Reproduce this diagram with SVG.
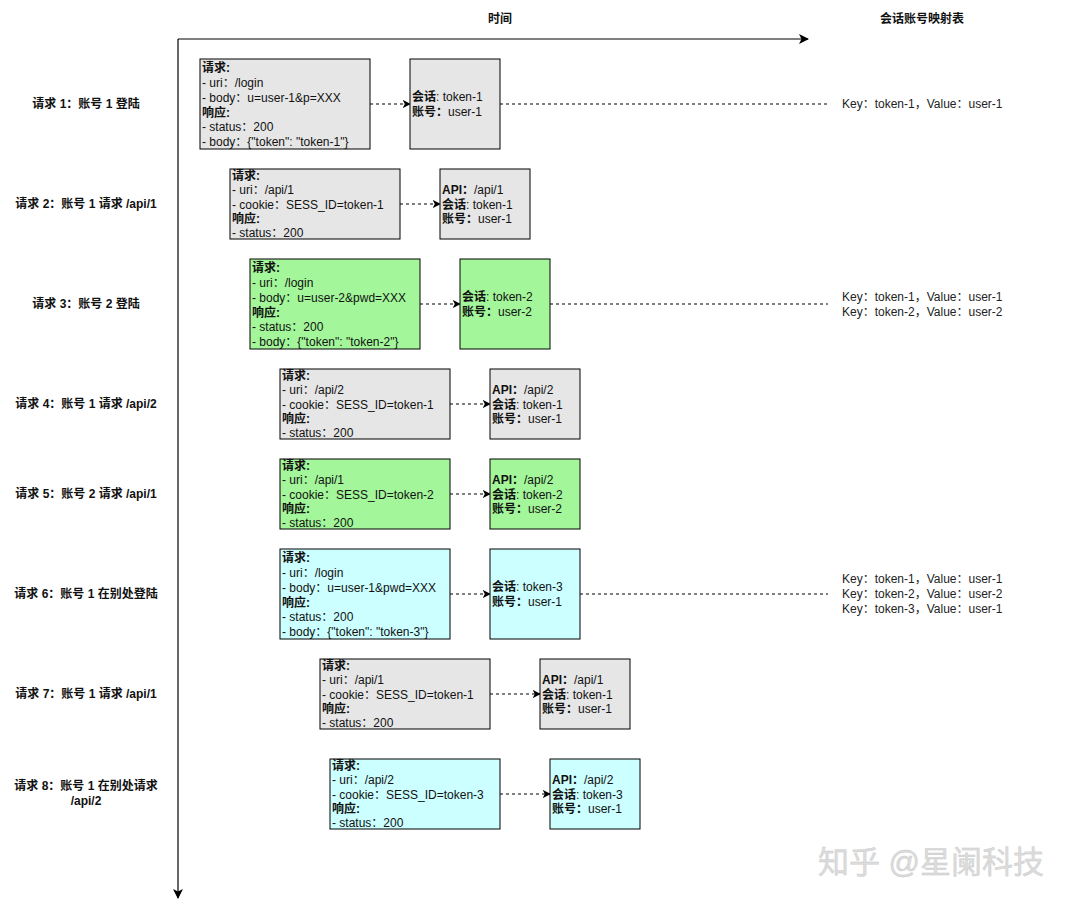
<svg xmlns="http://www.w3.org/2000/svg" width="1076" height="906" viewBox="0 0 1076 906">
<defs>
<marker id="ah" viewBox="0 0 10 10" refX="9" refY="5" markerWidth="8" markerHeight="8" markerUnits="userSpaceOnUse" orient="auto"><path d="M0,0 L10,5 L0,10 L2.5,5 Z" fill="#000"/></marker>
<marker id="ahb" viewBox="0 0 10 10" refX="9" refY="5" markerWidth="10" markerHeight="10" markerUnits="userSpaceOnUse" orient="auto"><path d="M0,0 L10,5 L0,10 L2.5,5 Z" fill="#000"/></marker>
</defs>
<style>
text{font-family:"Liberation Sans","Noto Sans CJK SC",Arial,sans-serif;font-size:12px;fill:#111}
.lbl{font-weight:bold;text-anchor:middle}
.b{font-weight:bold}
.box{stroke:#000;stroke-width:1}
.g{fill:#e6e6e6}.gr{fill:#a3f79a}.c{fill:#ccffff}
.dash{stroke:#000;stroke-width:1;stroke-dasharray:3 3;fill:none}
.map{fill:#222}
.wm{font-size:31px;fill:#dcdcdc;stroke:#c8c8c8;stroke-width:0.4}
</style>
<rect width="1076" height="906" fill="#fff"/>
<g id="axes">
<line x1="178" y1="39" x2="808" y2="39" stroke="#000" stroke-width="1.2" marker-end="url(#ahb)"/>
<line x1="178" y1="39" x2="178" y2="898" stroke="#000" stroke-width="1.2" marker-end="url(#ahb)"/>
<text x="500" y="23" class="lbl">时间</text>
<text x="922" y="23" class="lbl">会话账号映射表</text>
</g>
<g id="labels">
<text x="86" y="108" class="lbl">请求 1：账号 1 登陆</text>
<text x="86" y="208" class="lbl">请求 2：账号 1 请求 /api/1</text>
<text x="86" y="308" class="lbl">请求 3：账号 2 登陆</text>
<text x="86" y="408" class="lbl">请求 4：账号 1 请求 /api/2</text>
<text x="86" y="498" class="lbl">请求 5：账号 2 请求 /api/1</text>
<text x="86" y="598" class="lbl">请求 6：账号 1 在别处登陆</text>
<text x="86" y="698" class="lbl">请求 7：账号 1 请求 /api/1</text>
<text x="86" y="790" class="lbl">请求 8：账号 1 在别处请求</text>
<text x="86" y="805" class="lbl">/api/2</text>
</g>
<g id="connectors">
<line x1="370" y1="104" x2="410" y2="104" class="dash" marker-end="url(#ah)"/>
<line x1="500" y1="104" x2="828" y2="104" class="dash"/>
<line x1="400" y1="204" x2="440" y2="204" class="dash" marker-end="url(#ah)"/>
<line x1="420" y1="304" x2="460" y2="304" class="dash" marker-end="url(#ah)"/>
<line x1="550" y1="304" x2="828" y2="304" class="dash"/>
<line x1="450" y1="404" x2="490" y2="404" class="dash" marker-end="url(#ah)"/>
<line x1="450" y1="494" x2="490" y2="494" class="dash" marker-end="url(#ah)"/>
<line x1="450" y1="594" x2="490" y2="594" class="dash" marker-end="url(#ah)"/>
<line x1="580" y1="594" x2="828" y2="594" class="dash"/>
<line x1="490" y1="694" x2="540" y2="694" class="dash" marker-end="url(#ah)"/>
<line x1="500" y1="794" x2="550" y2="794" class="dash" marker-end="url(#ah)"/>
</g>
<g id="req1">
<rect x="200" y="59" width="170" height="90" class="box g"/>
<text x="202" y="72" class="b">请求:</text>
<text x="202" y="87">- uri：/login</text>
<text x="202" y="102">- body：u=user-1&amp;p=XXX</text>
<text x="202" y="117" class="b">响应:</text>
<text x="202" y="131">- status：200</text>
<text x="202" y="146">- body：{"token": "token-1"}</text>
</g>
<g id="resp1">
<rect x="410" y="59" width="90" height="90" class="box g"/>
<text x="412" y="101"><tspan class="b">会话</tspan>: token-1</text>
<text x="412" y="116"><tspan class="b">账号：</tspan>user-1</text>
</g>
<g id="map1">
<text x="842" y="108" class="map">Key：token-1，Value：user-1</text>
</g>
<g id="req2">
<rect x="230" y="169" width="170" height="70" class="box g"/>
<text x="232" y="180" class="b">请求:</text>
<text x="232" y="194">- uri：/api/1</text>
<text x="232" y="209">- cookie：SESS_ID=token-1</text>
<text x="232" y="223" class="b">响应:</text>
<text x="232" y="237">- status：200</text>
</g>
<g id="resp2">
<rect x="440" y="169" width="90" height="70" class="box g"/>
<text x="442" y="194"><tspan class="b">API：</tspan>/api/1</text>
<text x="442" y="209"><tspan class="b">会话</tspan>: token-1</text>
<text x="442" y="223"><tspan class="b">账号：</tspan>user-1</text>
</g>
<g id="req3">
<rect x="250" y="259" width="170" height="90" class="box gr"/>
<text x="252" y="272" class="b">请求:</text>
<text x="252" y="287">- uri：/login</text>
<text x="252" y="302">- body：u=user-2&amp;pwd=XXX</text>
<text x="252" y="317" class="b">响应:</text>
<text x="252" y="331">- status：200</text>
<text x="252" y="346">- body：{"token": "token-2"}</text>
</g>
<g id="resp3">
<rect x="460" y="259" width="90" height="90" class="box gr"/>
<text x="462" y="301"><tspan class="b">会话</tspan>: token-2</text>
<text x="462" y="316"><tspan class="b">账号：</tspan>user-2</text>
</g>
<g id="map3">
<text x="842" y="301" class="map">Key：token-1，Value：user-1</text>
<text x="842" y="316" class="map">Key：token-2，Value：user-2</text>
</g>
<g id="req4">
<rect x="280" y="369" width="170" height="70" class="box g"/>
<text x="282" y="380" class="b">请求:</text>
<text x="282" y="394">- uri：/api/2</text>
<text x="282" y="409">- cookie：SESS_ID=token-1</text>
<text x="282" y="423" class="b">响应:</text>
<text x="282" y="437">- status：200</text>
</g>
<g id="resp4">
<rect x="490" y="369" width="90" height="70" class="box g"/>
<text x="492" y="394"><tspan class="b">API：</tspan>/api/2</text>
<text x="492" y="409"><tspan class="b">会话</tspan>: token-1</text>
<text x="492" y="423"><tspan class="b">账号：</tspan>user-1</text>
</g>
<g id="req5">
<rect x="280" y="459" width="170" height="70" class="box gr"/>
<text x="282" y="470" class="b">请求:</text>
<text x="282" y="484">- uri：/api/1</text>
<text x="282" y="499">- cookie：SESS_ID=token-2</text>
<text x="282" y="513" class="b">响应:</text>
<text x="282" y="527">- status：200</text>
</g>
<g id="resp5">
<rect x="490" y="459" width="90" height="70" class="box gr"/>
<text x="492" y="484"><tspan class="b">API：</tspan>/api/2</text>
<text x="492" y="499"><tspan class="b">会话</tspan>: token-2</text>
<text x="492" y="513"><tspan class="b">账号：</tspan>user-2</text>
</g>
<g id="req6">
<rect x="280" y="549" width="170" height="90" class="box c"/>
<text x="282" y="562" class="b">请求:</text>
<text x="282" y="577">- uri：/login</text>
<text x="282" y="592">- body：u=user-1&amp;pwd=XXX</text>
<text x="282" y="607" class="b">响应:</text>
<text x="282" y="621">- status：200</text>
<text x="282" y="636">- body：{"token": "token-3"}</text>
</g>
<g id="resp6">
<rect x="490" y="549" width="90" height="90" class="box c"/>
<text x="492" y="591"><tspan class="b">会话</tspan>: token-3</text>
<text x="492" y="606"><tspan class="b">账号：</tspan>user-1</text>
</g>
<g id="map6">
<text x="842" y="583" class="map">Key：token-1，Value：user-1</text>
<text x="842" y="598" class="map">Key：token-2，Value：user-2</text>
<text x="842" y="613" class="map">Key：token-3，Value：user-1</text>
</g>
<g id="req7">
<rect x="320" y="659" width="170" height="70" class="box g"/>
<text x="322" y="670" class="b">请求:</text>
<text x="322" y="684">- uri：/api/1</text>
<text x="322" y="699">- cookie：SESS_ID=token-1</text>
<text x="322" y="713" class="b">响应:</text>
<text x="322" y="727">- status：200</text>
</g>
<g id="resp7">
<rect x="540" y="659" width="90" height="70" class="box g"/>
<text x="542" y="684"><tspan class="b">API：</tspan>/api/1</text>
<text x="542" y="699"><tspan class="b">会话</tspan>: token-1</text>
<text x="542" y="713"><tspan class="b">账号：</tspan>user-1</text>
</g>
<g id="req8">
<rect x="330" y="759" width="170" height="70" class="box c"/>
<text x="332" y="770" class="b">请求:</text>
<text x="332" y="784">- uri：/api/2</text>
<text x="332" y="799">- cookie：SESS_ID=token-3</text>
<text x="332" y="813" class="b">响应:</text>
<text x="332" y="827">- status：200</text>
</g>
<g id="resp8">
<rect x="550" y="759" width="90" height="70" class="box c"/>
<text x="552" y="784"><tspan class="b">API：</tspan>/api/2</text>
<text x="552" y="799"><tspan class="b">会话</tspan>: token-3</text>
<text x="552" y="813"><tspan class="b">账号：</tspan>user-1</text>
</g>
<g id="watermark">
<text x="818" y="873" class="wm">知乎 @星阑科技</text>
</g>
</svg>
